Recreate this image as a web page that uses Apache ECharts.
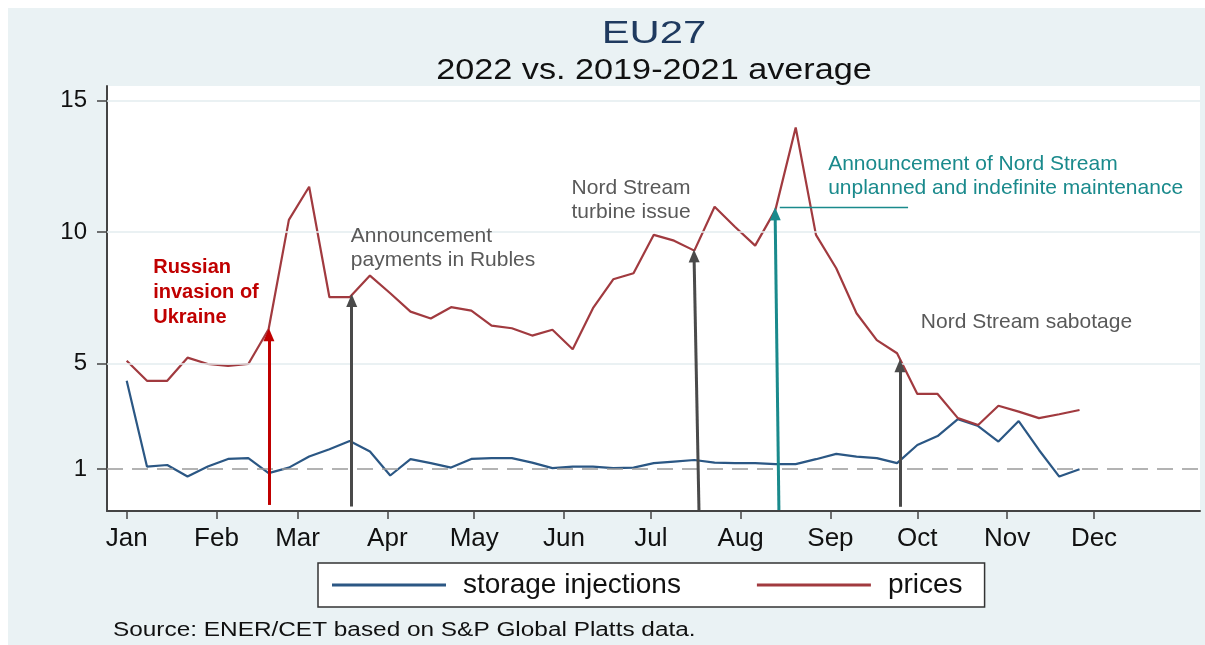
<!DOCTYPE html>
<html>
<head>
<meta charset="utf-8">
<script src="https://cdn.jsdelivr.net/npm/echarts@6/dist/echarts.min.js"></script>
<style>
html, body { margin: 0; padding: 0; background: #fff; }
#frame { position: relative; width: 1205px; height: 645px; background: #fff; }
#main { position: absolute; left: 8px; top: 8px; width: 1197px; height: 637px; }
</style>
</head>
<body>
<div id="frame"><div id="main"></div></div>
<script>
// weekly observations, day of year 2022 (0 = 1 Jan)
var weekDays = [0, 7, 14, 21, 28, 35, 42, 49, 56, 63, 70, 77, 84, 91, 98, 105, 112, 119, 126, 133,
  140, 147, 154, 161, 168, 175, 182, 189, 196, 203, 210, 217, 224, 231, 238, 245, 252, 259, 266, 273,
  280, 287, 294, 301, 308, 315, 322, 329];

// ratio 2022 vs 2019-2021 average
var storageInjections = [4.35, 1.09, 1.15, 0.71, 1.09, 1.38, 1.41, 0.84, 1.05, 1.47, 1.75, 2.06, 1.66, 0.75,
  1.37, 1.22, 1.05, 1.38, 1.41, 1.41, 1.24, 1.03, 1.09, 1.09, 1.03, 1.05, 1.22, 1.28, 1.34, 1.24,
  1.22, 1.22, 1.18, 1.18, 1.37, 1.57, 1.47, 1.41, 1.22, 1.91, 2.25, 2.89, 2.63, 2.04, 2.82, 1.72,
  0.71, 0.99];
var prices = [5.11, 4.35, 4.35, 5.23, 4.99, 4.92, 4.99, 6.31, 10.47, 11.73, 7.53, 7.53, 8.35, 7.68,
  6.98, 6.72, 7.15, 7.02, 6.45, 6.35, 6.07, 6.29, 5.55, 7.11, 8.21, 8.44, 9.90, 9.68, 9.30, 10.97,
  10.21, 9.49, 10.85, 13.98, 9.90, 8.63, 6.92, 5.90, 5.40, 3.85, 3.85, 2.93, 2.67, 3.40, 3.18, 2.93,
  3.08, 3.24];

var monthStarts = [0, 31, 59, 90, 120, 151, 181, 212, 243, 273, 304, 334];
var monthLabels = ['Jan', 'Feb', 'Mar', 'Apr', 'May', 'Jun', 'Jul', 'Aug', 'Sep', 'Oct', 'Nov', 'Dec'];
var yTicks = [1, 5, 10, 15];
var gridValues = [5, 10, 15];
var baseline = 1;

var FONT = '"Liberation Sans", Arial, Helvetica, sans-serif';
var GRAY = '#4a4a4a', RED = '#c00000', TEAL = '#1a8a8c';

// annotations: text anchor (top-left) and arrow in data coordinates
var events = [
  { text: 'Russian\ninvasion of\nUkraine', color: RED, bold: true, size: 20, lh: 25,
    at: [9.15, 9.12], from: [49.1, -0.37], to: [49.1, 6.1] },
  { text: 'Announcement\npayments in Rubles', color: '#595959', size: 21, lh: 24.5,
    at: [77.4, 10.32], from: [77.7, -0.43], to: [77.7, 7.4], arrowColor: GRAY },
  { text: 'Nord Stream\nturbine issue', color: '#595959', size: 21, lh: 24,
    at: [153.6, 12.14], from: [197.6, -0.56], to: [195.9, 9.1], arrowColor: GRAY },
  { text: 'Announcement of Nord Stream\nunplanned and indefinite maintenance', color: TEAL, size: 21, lh: 24.7,
    at: [242.2, 13.07], from: [225.2, -0.56], to: [223.9, 10.7] },
  { text: 'Nord Stream sabotage', color: '#595959', size: 21, lh: 25,
    at: [274.2, 7.04], from: [267, -0.44], to: [267, 4.92], arrowColor: GRAY }
];

function pairs(values) {
  return weekDays.map(function (d, i) { return [d, values[i]]; });
}

var arrowLines = events.map(function (ev) {
  var c = ev.arrowColor || ev.color;
  var ls = { color: c, width: 3, type: 'solid' };
  return [
    { coord: ev.from, symbol: 'none', lineStyle: ls },
    { coord: ev.to, symbol: 'triangle', symbolSize: [11, 13], lineStyle: ls }
  ];
});
// teal pointer line to the maintenance label
arrowLines.push([
  { coord: [225.5, 10.94], symbol: 'none', lineStyle: { color: TEAL, width: 1.3, type: 'solid' } },
  { coord: [269.8, 10.94], symbol: 'none', lineStyle: { color: TEAL, width: 1.3, type: 'solid' } }
]);

var chart = echarts.init(document.getElementById('main'));

var option = {
  animation: false,
  backgroundColor: '#eaf2f4',
  textStyle: { fontFamily: FONT },
  grid: { left: 99, right: 5, top: 78, bottom: 134, show: true, backgroundColor: '#ffffff', borderWidth: 0 },
  legend: {
    data: ['storage injections', 'prices'],
    left: 310, top: 555,
    icon: 'rect', itemWidth: 114, itemHeight: 3, itemGap: 76,
    backgroundColor: '#ffffff', borderColor: '#333', borderWidth: 1.5, borderRadius: 0,
    padding: [8, 22, 8, 14],
    textStyle: { fontSize: 28, color: '#111', fontFamily: FONT, padding: [0, 0, 0, 12] }
  },
  xAxis: {
    type: 'value', min: -6.8, max: 370.6,
    axisLine: { onZero: false, lineStyle: { color: '#444', width: 2 } },
    axisTick: { show: true, customValues: monthStarts, length: 8, lineStyle: { color: '#444', width: 1.5 } },
    axisLabel: {
      customValues: monthStarts, fontSize: 26, color: '#111', margin: 15,
      formatter: function (v) { return monthLabels[monthStarts.indexOf(v)]; }
    },
    splitLine: { show: false }
  },
  yAxis: {
    type: 'value', min: -0.6, max: 15.56,
    axisLine: { show: true, onZero: false, lineStyle: { color: '#444', width: 2 } },
    axisTick: { show: true, customValues: yTicks, length: 10, lineStyle: { color: '#444', width: 1.5 } },
    axisLabel: { customValues: yTicks, fontSize: 24, color: '#111', margin: 20 },
    splitLine: { show: false }
  },
  series: [
    {
      name: 'gridlines', type: 'line', data: [], z: 1, silent: true,
      markLine: {
        silent: true, symbol: 'none', label: { show: false },
        data: gridValues.map(function (v) {
          return { yAxis: v, lineStyle: { color: '#e3ecef', width: 1.5, type: 'solid' } };
        }).concat([{ yAxis: baseline, lineStyle: { color: '#9a9a9a', width: 1.6, type: [16, 9] } }])
      }
    },
    {
      name: 'storage injections', type: 'line', data: pairs(storageInjections),
      showSymbol: false, symbol: 'none', z: 3,
      lineStyle: { color: '#2b5784', width: 2.2 }, itemStyle: { color: '#2b5784' }
    },
    {
      name: 'prices', type: 'line', data: pairs(prices),
      showSymbol: false, symbol: 'none', z: 3,
      lineStyle: { color: '#a13a3f', width: 2.2 }, itemStyle: { color: '#a13a3f' }
    },
    {
      name: 'annotations', type: 'line', data: [], z: 5, silent: true,
      markLine: { silent: true, label: { show: false }, data: arrowLines }
    }
  ]
};

chart.setOption(option);

var graphics = [
  { type: 'text', x: 646, y: 26, scaleX: 1.35,
    style: { text: 'EU27', fill: '#1f3a5f', fontSize: 31, fontFamily: FONT, textAlign: 'center', textVerticalAlign: 'middle' } },
  { type: 'text', x: 646, y: 63, scaleX: 1.18,
    style: { text: '2022 vs. 2019-2021 average', fill: '#111', fontSize: 29, fontFamily: FONT, textAlign: 'center', textVerticalAlign: 'middle' } },
  { type: 'text', x: 105, y: 623, scaleX: 1.25,
    style: { text: 'Source: ENER/CET based on S&P Global Platts data.', fill: '#111', fontSize: 19.5, fontFamily: FONT, textAlign: 'left', textVerticalAlign: 'middle' } }
];
events.forEach(function (ev) {
  var p = chart.convertToPixel({ gridIndex: 0 }, ev.at);
  graphics.push({
    type: 'text', x: p[0], y: p[1], z: 10,
    style: {
      text: ev.text, fill: ev.color, fontSize: ev.size, fontFamily: FONT,
      fontWeight: ev.bold ? 'bold' : 'normal', lineHeight: ev.lh,
      textAlign: 'left', textVerticalAlign: 'top'
    }
  });
});
chart.setOption({ graphic: graphics });
</script>
</body>
</html>
